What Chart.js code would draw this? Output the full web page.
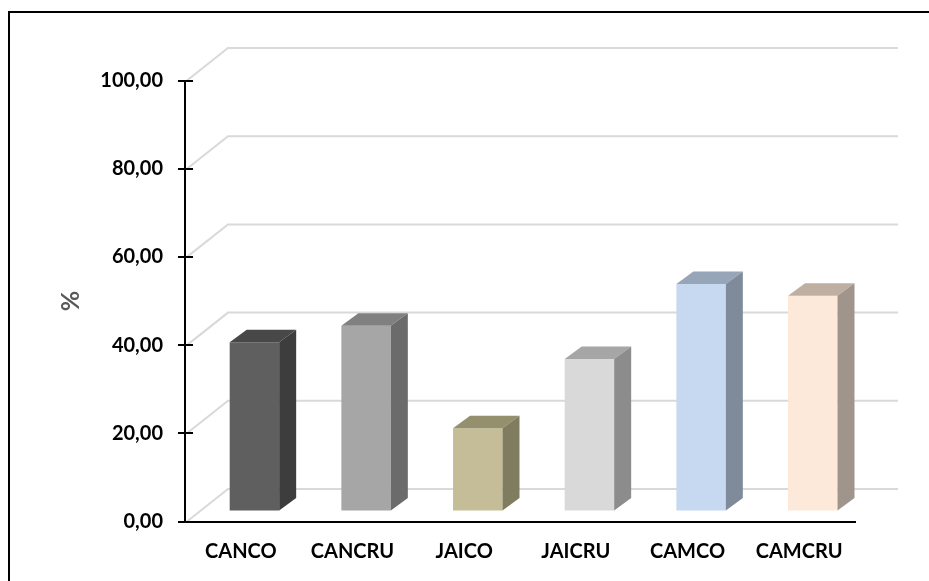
<!DOCTYPE html>
<html>
<head>
<meta charset="utf-8">
<script src="https://cdn.jsdelivr.net/npm/chart.js@4/dist/chart.umd.min.js"></script>
<style>
  html, body { margin: 0; padding: 0; background: #ffffff; }
  canvas { display: block; }
</style>
</head>
<body>
<canvas id="chart" width="929" height="581"></canvas>
<script>
// Sample groups and their percentages
const categories = ['CANCO', 'CANCRU', 'JAICO', 'JAICRU', 'CAMCO', 'CAMCRU'];
const percentValues = [38.4, 42.1, 18.9, 34.6, 51.6, 48.9];
const yTickLabels = ['0,00', '20,00', '40,00', '60,00', '80,00', '100,00'];
const yAxisTitle = '%';

// Face colours of each prism: front, right side, top
const frontColors = ['#5f5f5f', '#a6a6a6', '#c4bd97', '#d9d9d9', '#c6d9f1', '#fde9d9'];
const sideColors  = ['#3d3d3d', '#6b6b6b', '#7f7c5f', '#8c8c8c', '#7f8b9a', '#a0958b'];
const topColors   = ['#484848', '#808080', '#948f6d', '#a6a6a6', '#96a6b8', '#bfafa2'];

// Oblique projection: back wall offset, bar placement in depth, bar depth
const WALL = { dx: 43, dy: -32.5 };
const BAR_SHIFT = { dx: 13.6, dy: -10 };
const BAR_DEPTH = { dx: 17, dy: -12.5 };

const frame3d = {
  id: 'frame3d',
  beforeDraw(chart) {
    const ctx = chart.ctx;
    ctx.save();
    ctx.fillStyle = '#ffffff';
    ctx.fillRect(0, 0, chart.width, chart.height);
    // outer frame
    ctx.strokeStyle = '#000000';
    ctx.lineWidth = 2;
    ctx.beginPath();
    ctx.moveTo(9, chart.height + 5);
    ctx.lineTo(9, 12);
    ctx.lineTo(chart.width + 5, 12);
    ctx.stroke();
    ctx.restore();
  },
  beforeDatasetsDraw(chart) {
    const ctx = chart.ctx;
    const area = chart.chartArea;
    const y = chart.scales.y;
    ctx.save();
    // back wall gridlines with their slanted run along the side wall
    ctx.strokeStyle = '#d9d9d9';
    ctx.lineWidth = 2;
    y.ticks.forEach(t => {
      const py = y.getPixelForValue(t.value);
      ctx.beginPath();
      ctx.moveTo(area.left + 2, py);
      ctx.lineTo(area.left + WALL.dx, py + WALL.dy);
      ctx.lineTo(area.right + WALL.dx, py + WALL.dy);
      ctx.stroke();
    });
    // inner half of the cross tick marks
    ctx.strokeStyle = '#000000';
    ctx.lineWidth = 2;
    y.ticks.forEach(t => {
      const py = Math.round(y.getPixelForValue(t.value));
      ctx.beginPath();
      ctx.moveTo(area.left, py);
      ctx.lineTo(area.left + 8, py);
      ctx.stroke();
    });
    ctx.restore();
    // front faces are drawn by the library, pushed back into the depth
    ctx.save();
    ctx.translate(BAR_SHIFT.dx, BAR_SHIFT.dy);
  },
  afterDatasetsDraw(chart) {
    const ctx = chart.ctx;
    ctx.restore();
    const meta = chart.getDatasetMeta(0);
    ctx.save();
    meta.data.forEach((bar, i) => {
      const p = bar.getProps(['x', 'y', 'base', 'width'], true);
      const l = p.x - p.width / 2 + BAR_SHIFT.dx;
      const r = p.x + p.width / 2 + BAR_SHIFT.dx;
      const top = p.y + BAR_SHIFT.dy;
      const bot = p.base + BAR_SHIFT.dy;
      // top face
      ctx.fillStyle = topColors[i];
      ctx.beginPath();
      ctx.moveTo(l, top);
      ctx.lineTo(r, top);
      ctx.lineTo(r + BAR_DEPTH.dx, top + BAR_DEPTH.dy);
      ctx.lineTo(l + BAR_DEPTH.dx, top + BAR_DEPTH.dy);
      ctx.closePath();
      ctx.fill();
      // right side face
      ctx.fillStyle = sideColors[i];
      ctx.beginPath();
      ctx.moveTo(r, top);
      ctx.lineTo(r + BAR_DEPTH.dx, top + BAR_DEPTH.dy);
      ctx.lineTo(r + BAR_DEPTH.dx, bot + BAR_DEPTH.dy);
      ctx.lineTo(r, bot);
      ctx.closePath();
      ctx.fill();
    });
    ctx.restore();
  }
};

Chart.defaults.font.family = 'Lato, "Open Sans", sans-serif';
Chart.defaults.font.weight = 'bold';
Chart.defaults.color = '#000000';

new Chart(document.getElementById('chart'), {
  type: 'bar',
  data: {
    labels: categories,
    datasets: [{
      data: percentValues,
      backgroundColor: frontColors,
      borderWidth: 0,
      categoryPercentage: 1,
      barPercentage: 0.443,
      clip: false
    }]
  },
  options: {
    responsive: false,
    animation: false,
    events: [],
    layout: { padding: { left: 52, top: 80.5, right: 74, bottom: 0 } },
    plugins: {
      legend: { display: false },
      tooltip: { enabled: false },
      title: { display: false }
    },
    scales: {
      x: {
        grid: { display: false, drawTicks: false },
        border: { display: true, color: '#000000', width: 2 },
        ticks: { font: { size: 20, weight: 'bold' }, color: '#000000', padding: 18, maxRotation: 0 },
        afterFit(scale) { scale.height = 59.5; }
      },
      y: {
        min: 0,
        max: 100,
        grid: { display: true, drawOnChartArea: false, drawTicks: true, tickLength: 7, color: '#000000', lineWidth: 2 },
        border: { display: true, color: '#000000', width: 2 },
        ticks: {
          stepSize: 20,
          padding: 15,
          font: { size: 20, weight: 'bold' },
          color: '#000000',
          callback: (v, i) => yTickLabels[i]
        },
        title: {
          display: true,
          text: yAxisTitle,
          color: '#595959',
          font: { size: 25, weight: 'bold' }
        },
        afterFit(scale) { scale.width = 133; }
      }
    }
  },
  plugins: [frame3d]
});
</script>
</body>
</html>
